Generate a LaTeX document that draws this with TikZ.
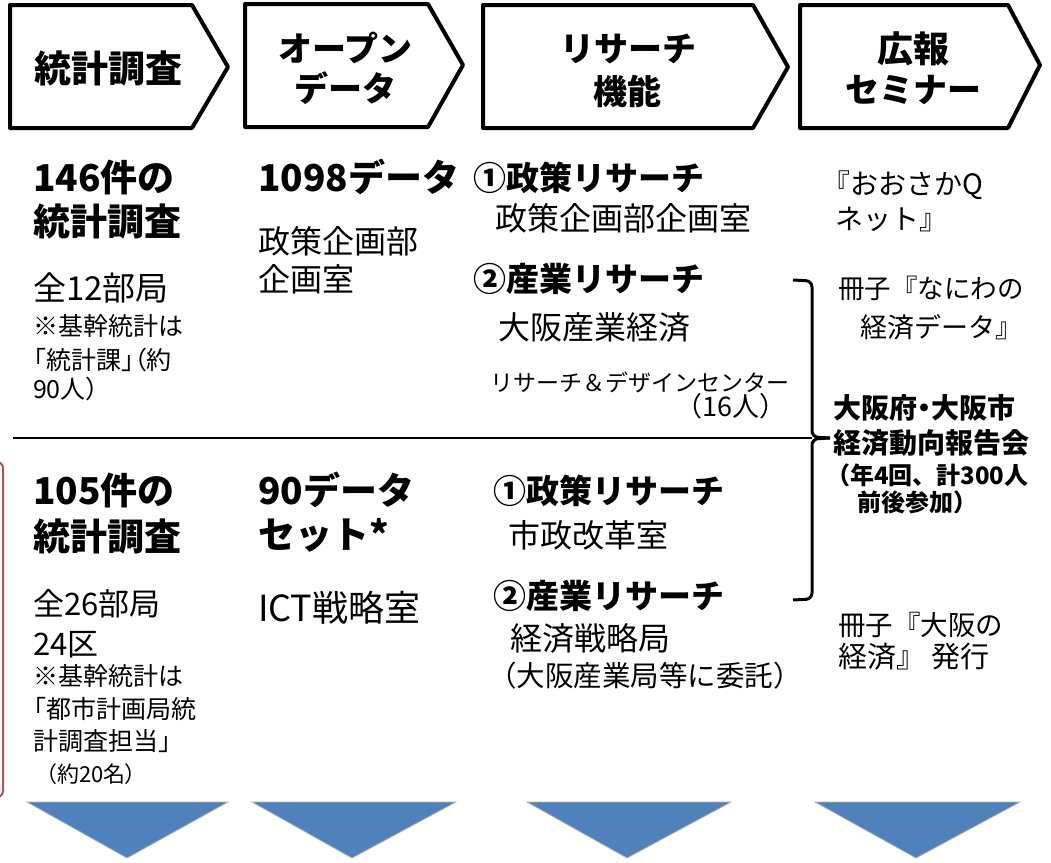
\documentclass[tikz,border=0pt]{standalone}
\usepackage{fontspec}
\setmainfont{Noto Sans CJK JP}
\newfontfamily\pfont{Noto Sans CJK JP}[RawFeature=+palt]
\definecolor{triblue}{HTML}{4F81BD}
\definecolor{redline}{HTML}{C0504D}
\tikzset{
  lbl/.style={inner sep=0pt, outer sep=0pt, anchor=base west},
  hdr/.style={inner sep=0pt, anchor=base, font=\fontsize{34}{40}\selectfont\bfseries},
  bbig/.style={lbl, font=\fontsize{37}{40}\selectfont\bfseries},
  bmid/.style={lbl, font=\fontsize{33}{40}\selectfont\bfseries},
  bsml/.style={lbl, font=\fontsize{28}{30}\selectfont\bfseries},
  btiny/.style={lbl, font=\fontsize{24}{26}\selectfont\bfseries},
  rbig/.style={lbl, font=\fontsize{33}{36}\selectfont},
  rmid/.style={lbl, font=\fontsize{32}{34}\selectfont},
  rcol/.style={lbl, font=\fontsize{28}{34}\selectfont},
  rsml/.style={lbl, font=\fontsize{25}{30}\selectfont},
  rtiny/.style={lbl, font=\fontsize{23}{28}\selectfont},
  chev/.style={draw=black, line width=4pt, line join=round, fill=white},
  tri/.style={fill=triblue, draw=gray!60, line width=0.8pt},
  rule/.style={draw=black, line width=2pt},
  brace/.style={draw=black, line width=3pt, rounded corners=6pt},
}
\begin{document}
\begin{tikzpicture}[x=1pt,y=-1pt]
\useasboundingbox (0,0) rectangle (1051,862);

% header chevrons
\draw[chev] (10,5) -- (192,5) -- (228,67) -- (192,128) -- (10,128) -- cycle;
\draw[chev] (245,4) -- (428,4) -- (463,65) -- (428,127) -- (245,127) -- cycle;
\draw[chev] (483,5) -- (753,5) -- (788,67) -- (753,128) -- (483,128) -- cycle;
\draw[chev] (800,5) -- (1008,5) -- (1040,65) -- (1008,128) -- (800,128) -- cycle;

\node[hdr, font=\fontsize{37}{40}\selectfont\bfseries] (h1) at (108,82) {統計調査};
\node[hdr] (h2a) at (345,61) {オープン};
\node[hdr] (h2b) at (345,101) {データ};
\node[hdr] (h3a) at (628,61) {リサーチ};
\node[hdr] (h3b) at (627,104) {機能};
\node[hdr, font=\fontsize{36}{40}\selectfont\bfseries] (h4a) at (913,62) {広報};
\node[hdr] (h4b) at (913,102) {セミナー};

% upper section
\node[bbig] (u11) at (33,191) {146件の};
\node[bbig] (u12) at (33,235) {統計調査};
\node[rbig] (u13) at (33,300) {全12部局};
\node[rsml] (u14) at (33,335) {※基幹統計は};
\node[rsml, font=\fontsize{25}{30}\pfont] (u15) at (34,369) {「統計課」（約};
\node[rsml] (u16) at (33,398) {90人）};

\node[bbig] (u21) at (258,191) {1098データ};
\node[rmid] (u22) at (258,253) {政策企画部};
\node[rmid] (u23) at (258,291) {企画室};

\node[bmid] (u31) at (473,190) {①政策リサーチ};
\node[rmid] (u32) at (495,230) {政策企画部企画室};
\node[bmid] (u33) at (473,291) {②産業リサーチ};
\node[rmid] (u34) at (498,339) {大阪産業経済};
\node[rtiny] (u35) at (490,391) {リサーチ＆デザインセンター};
\node[lbl, font=\fontsize{27}{30}\selectfont, anchor=base east] (u36) at (786,416) {（16人）};

\node[rcol] (u41) at (822,194) {『おおさかQ};
\node[rcol] (u42) at (835,229) {ネット』};
\node[lbl, font=\fontsize{26.5}{30}\selectfont] (u43) at (838,298) {冊子『なにわの};
\node[lbl, font=\fontsize{27}{30}\selectfont] (u44) at (860,337) {経済データ』};
\node[bsml, font=\fontsize{28}{30}\pfont\bfseries] (u45) at (833,418) {大阪府・大阪市};
\node[bsml] (u46) at (833,453) {経済動向報告会};
\node[btiny] (u47) at (826,484) {（年4回、計300人};
\node[btiny] (u48) at (857,511) {前後参加）};
\node[lbl, font=\fontsize{27.5}{30}\selectfont] (u49) at (838,635) {冊子『大阪の};
\node[lbl, font=\fontsize{29}{30}\selectfont] (u410) at (838,667) {経済』 発行};

% divider and brace
\coordinate (ruleL) at (13,438);
\coordinate (braceTop) at (793,280);
\coordinate (braceTip) at (830,438);
\coordinate (braceBot) at (793,600);
\draw[rule] (ruleL) -- (812,438);
\draw[brace] (braceTop) -- (812,281) -- (812,437) -- (braceTip);
\draw[brace] (braceTip) -- (812,439) -- (812,599) -- (braceBot);

% lower section
\draw[draw=redline, line width=2pt, rounded corners=6pt] (-20,462) rectangle (3,797);

\node[bbig] (l11) at (33,504) {105件の};
\node[bbig] (l12) at (33,550) {統計調査};
\node[lbl, font=\fontsize{31}{34}\selectfont] (l13) at (33,615) {全26部局};
\node[lbl, font=\fontsize{31}{34}\selectfont] (l14) at (33,655) {24区};
\node[rsml] (l15) at (33,685) {※基幹統計は};
\node[rsml, font=\fontsize{25}{30}\pfont] (l16) at (34,718) {「都市計画局統};
\node[rsml] (l17) at (33,750) {計調査担当」};
\node[lbl, font=\fontsize{22}{28}\pfont] (l18) at (46,782) {（約20名）};

\node[bbig] (l21) at (258,504) {90データ};
\node[bbig] (l22) at (258,548) {セット*};
\node[lbl, font=\fontsize{36}{38}\selectfont] (l23) at (258,621) {ICT戦略室};

\node[bmid] (l31) at (493,503) {①政策リサーチ};
\node[rmid] (l32) at (508,547) {市政改革室};
\node[bmid] (l33) at (493,608) {②産業リサーチ};
\node[rmid] (l34) at (510,650) {経済戦略局};
\node[lbl, font=\fontsize{28.5}{30}\selectfont] (l35) at (488,686) {（大阪産業局等に委託）};

% bottom triangles
\draw[tri] (27,802) -- (228,802) -- (127,858) -- cycle;
\draw[tri] (252,802) -- (456,802) -- (352,858) -- cycle;
\draw[tri] (527,802) -- (731,802) -- (627,858) -- cycle;
\draw[tri] (815,802) -- (1020,802) -- (916,858) -- cycle;
\end{tikzpicture}
\end{document}
